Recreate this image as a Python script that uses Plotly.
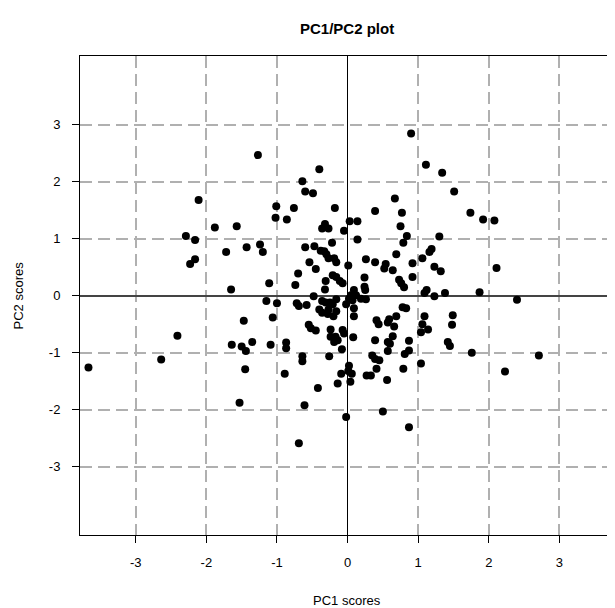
import plotly.graph_objects as go

pc1 = [-2.11, -1.88, -2.29, -2.16, -1.27, -0.40, -0.64, -0.60, -0.49, -1.01, -0.76, -0.18, -1.02, -0.86, -1.57,
       -0.36, -0.32, -0.27, -0.05, 0.90, 1.11, 1.34, 1.51, 0.67, 0.39, 0.77, 1.74, 0.03, 0.14, 0.75, 0.84, 1.30,
       0.14, 1.92, 2.08, -2.16, -2.23, -2.41, 2.11, 1.87, 2.40, -3.67, -2.64, 1.76, 2.71, 2.23, -1.64, -1.50,
       -1.44, -1.35, -1.09, -0.87, -0.87, -0.64, -0.64, -0.26, -1.45, -0.89, -0.09, -0.14, -0.42, -1.53, -0.61,
       -0.02, -0.69, -0.08, 0.39, 0.57, 0.60, 0.87, 1.42, 1.45, 0.35, 0.39, 0.45, 0.57, 0.81, 0.87, 1.04, 0.02,
       0.01, 0.06, 0.04, 0.27, 0.33, 0.41, 0.56, 0.79, 0.50, 0.87, -1.72, -1.43, -1.24, -1.20, -0.60, -0.47,
       -0.22, -0.38, -0.33, -0.30, -0.27, -0.19, -0.16, -0.54, -0.45, -0.70, -0.74, -1.11, -1.65, -0.21, -0.16,
       -0.11, -0.07, -0.31, -0.32, 0.01, -0.48, -1.15, -1.00, -0.72, -0.69, -0.58, -0.36, -0.31, -0.25, -0.16,
       -0.21, -0.02, -0.40, -0.36, -0.27, -0.28, -0.16, -0.20, -1.06, -1.47, -0.55, -0.52, -0.45, -0.24, -0.07,
       -0.24, -0.17, -0.14, -0.19, 0.79, 1.19, 1.16, 0.69, 1.06, 0.26, 0.39, 0.54, 0.52, 0.64, 0.92, 1.23, 1.32,
       0.24, 0.92, 0.73, 0.76, 0.80, 0.24, 0.25, 0.09, 0.05, 0.12, 0.19, 0.26, 0.02, 0.07, 0.09, 0.09, 1.12,
       1.09, 1.38, 1.23, 0.78, 0.83, 0.69, 0.59, 0.57, 0.41, 0.44, 0.66, 1.09, 1.06, 1.14, 1.04, 1.49, 1.48,
       0.64, 0.08, -0.05]
pc2 = [1.68, 1.20, 1.05, 0.98, 2.47, 2.22, 2.01, 1.83, 1.80, 1.57, 1.54, 1.54, 1.37, 1.34, 1.22,
       1.18, 1.26, 1.18, 1.14, 2.85, 2.30, 2.16, 1.83, 1.71, 1.49, 1.46, 1.46, 1.31, 1.31, 1.22, 1.05, 1.04,
       0.99, 1.34, 1.32, 0.64, 0.56, -0.70, 0.49, 0.06, -0.07, -1.26, -1.12, -1.00, -1.05, -1.33, -0.86, -0.89,
       -0.97, -0.81, -0.86, -0.82, -0.92, -1.06, -1.15, -1.06, -1.29, -1.37, -1.37, -1.54, -1.62, -1.88, -1.92,
       -2.13, -2.59, -0.94, -0.78, -0.81, -0.84, -0.79, -0.81, -0.88, -1.05, -1.11, -1.13, -0.97, -1.02, -0.96,
       -1.19, -1.23, -1.32, -1.37, -1.51, -1.40, -1.40, -1.28, -1.48, -1.28, -2.03, -2.31, 0.77, 0.85, 0.90,
       0.77, 0.85, 0.87, 0.93, 0.79, 0.78, 0.73, 0.66, 0.66, 0.59, 0.59, 0.47, 0.39, 0.19, 0.22, 0.11, 0.36,
       0.33, 0.26, 0.22, 0.26, 0.11, 0.53, -0.01, -0.09, -0.13, -0.13, -0.18, -0.16, -0.09, -0.12, -0.12, -0.06,
       -0.15, -0.15, -0.24, -0.30, -0.24, -0.32, -0.27, -0.36, -0.38, -0.44, -0.51, -0.57, -0.61, -0.59, -0.60,
       -0.72, -0.72, -0.78, -0.81, 0.93, 0.82, 0.77, 0.73, 0.66, 0.64, 0.59, 0.56, 0.48, 0.45, 0.57, 0.51, 0.43,
       0.32, 0.33, 0.28, 0.22, 0.15, 0.16, 0.10, 0.10, 0.01, 0.01, -0.05, -0.06, -0.05, -0.08, -0.22, -0.36, 0.10,
       0.05, 0.05, -0.01, -0.20, -0.22, -0.36, -0.41, -0.47, -0.43, -0.50, -0.54, -0.36, -0.50, -0.59, -0.64,
       -0.34, -0.51, -0.71, -0.73, -0.66]

tick_vals = [-3, -2, -1, 0, 1, 2, 3]
tick_text = ["-3", "-2", "-1", "0", "1", "2", "3"]

fig = go.Figure()
fig.add_trace(go.Scatter(x=pc1, y=pc2, mode="markers",
                         marker=dict(color="black", size=8, line=dict(width=0)),
                         hoverinfo="x+y", showlegend=False))

axis_common = dict(
    tickmode="array", tickvals=tick_vals, ticktext=tick_text,
    showgrid=True, gridcolor="#b0b0b0", gridwidth=2, griddash="12px,6px",
    showline=True, linecolor="black", linewidth=1, mirror=True,
    ticks="outside", ticklen=7, tickcolor="black", tickwidth=1,
    tickfont=dict(family="Liberation Sans, Arial, sans-serif", size=13, color="black"),
    zeroline=True,
)

fig.update_xaxes(range=[-3.79, 3.76], zerolinecolor="black", zerolinewidth=1,
                 ticklabelstandoff=8, **axis_common)
fig.update_yaxes(range=[-4.2, 4.21], zerolinecolor="#444444", zerolinewidth=1.5,
                 ticklabelstandoff=9, **axis_common)

# page body has an 8px margin, so the figure is drawn slightly smaller and offset
fig.update_layout(
    width=607, height=600,
    margin=dict(l=72, r=1.5, t=48, b=73),
    plot_bgcolor="white", paper_bgcolor="white",
    font=dict(family="Liberation Sans, Arial, sans-serif", color="black"),
    annotations=[
        dict(text="<b>PC1/PC2 plot</b>", x=0.5, y=1, xref="paper", yref="paper",
             yshift=28, showarrow=False, font=dict(size=15), xanchor="center", yanchor="middle"),
        dict(text="PC1 scores", x=0.5, y=0, xref="paper", yref="paper",
             yshift=-65, showarrow=False, font=dict(size=13), xanchor="center", yanchor="middle"),
        dict(text="PC2 scores", x=0, y=0.5, xref="paper", yref="paper",
             xshift=-62, showarrow=False, textangle=-90, font=dict(size=13),
             xanchor="center", yanchor="middle"),
    ],
)

fig.write_html("out.html")
